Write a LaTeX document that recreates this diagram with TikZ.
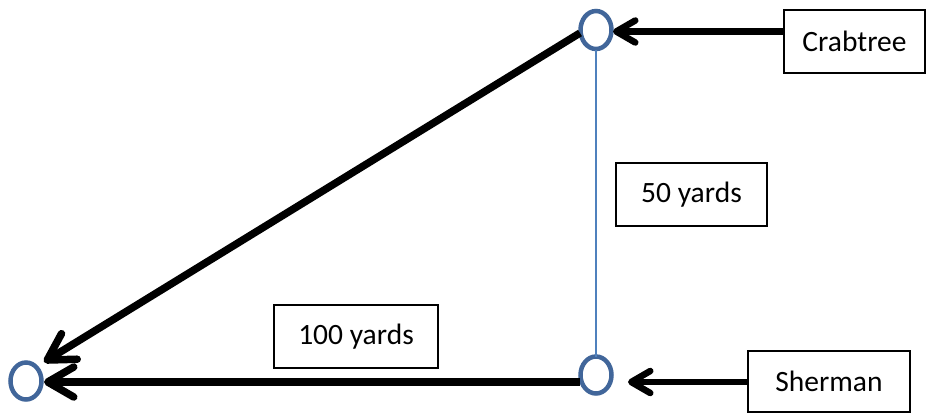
\documentclass[tikz,border=0pt]{standalone}
\usepackage{fontspec}
\setmainfont{Carlito}
\usetikzlibrary{arrows.meta}
\definecolor{ringblue}{HTML}{41669A}
\definecolor{lineblue}{HTML}{4F81BD}
\tikzset{
  ring/.style={ringblue, line width=4.5pt},
  labelbox/.style={draw=black, line width=1.3pt, rectangle, font=\fontsize{29.5}{33}\selectfont, inner sep=0pt},
  bigarrow/.style={draw=black, line width=7.5pt, -{Straight Barb[length=26pt,width=30pt,line cap=round,line join=round]}},
  smallarrow/.style={draw=black, line width=6.5pt, -{Straight Barb[length=19pt,width=22pt,line cap=round,line join=round]}},
}
\begin{document}
\begin{tikzpicture}[x=1pt,y=-1pt]
\useasboundingbox (0,0) rectangle (926,413);
\coordinate (topc) at (596,30);
\coordinate (brc) at (596,375);
\coordinate (blc) at (26,381);
\draw[ring] (topc) ellipse [x radius=15.5pt, y radius=19pt];
\draw[ring] (brc) ellipse [x radius=15.5pt, y radius=18.5pt];
\draw[ring] (blc) ellipse [x radius=15.5pt, y radius=18.5pt];
\coordinate (topS) at (596,49.5);
\coordinate (brN) at (596,356.5);
\coordinate (topE) at (613,31.5);
\coordinate (topW) at (580,33);
\coordinate (brW) at (580,382);
\coordinate (brE) at (628,382);
\coordinate (blE) at (44,382);
\coordinate (blNE) at (44,362);
\draw[lineblue, line width=1.5pt] (topS) -- (brN);
\node[labelbox, minimum width=141pt, minimum height=63pt] (crab) at (854.5,41.5) {Crabtree};
\node[labelbox, minimum width=162pt, minimum height=61pt] (sher) at (829,381.5) {Sherman};
\node[labelbox, minimum width=151pt, minimum height=63pt] (fifty) at (691.5,194.5) {50 yards};
\node[labelbox, minimum width=164pt, minimum height=63pt] (hund) at (356,336.5) {100 yards};
\draw[smallarrow] (crab.west |- topE) -- (topE);
\draw[smallarrow] (sher.west |- brE) -- (brE);
\draw[bigarrow] (brW) -- (blE);
\draw[bigarrow] (topW) -- (blNE);
\end{tikzpicture}
\end{document}
